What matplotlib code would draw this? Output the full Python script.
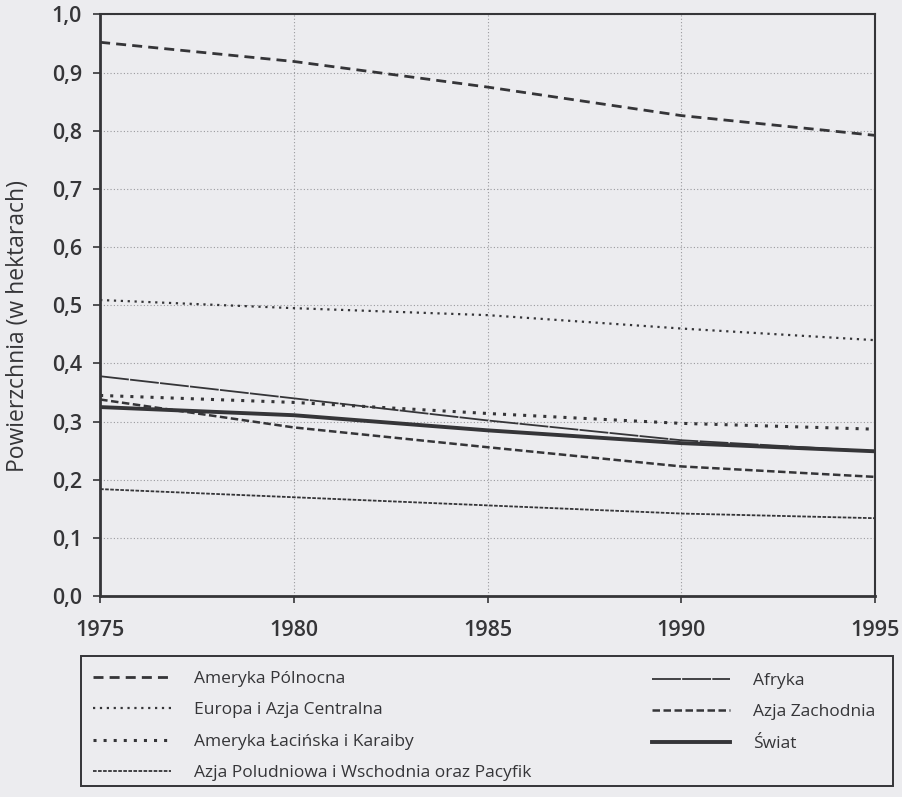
import matplotlib.pyplot as plt
from matplotlib.patches import Rectangle
import numpy as np

# Data (hectares per person)
# ---------------------------------------------
years = [1975, 1980, 1985, 1990, 1995]

ameryka_pln = [0.952, 0.919, 0.875, 0.826, 0.792]
europa = [0.509, 0.495, 0.483, 0.460, 0.440]
ameryka_lac = [0.345, 0.333, 0.314, 0.297, 0.287]
azja_pld = [0.184, 0.170, 0.156, 0.142, 0.134]
afryka = [0.378, 0.340, 0.302, 0.268, 0.249]
azja_zach = [0.338, 0.290, 0.256, 0.223, 0.205]
swiat = [0.325, 0.311, 0.285, 0.263, 0.249]

labels = ['Ameryka Pólnocna', 'Europa i Azja Centralna', 'Ameryka Łacińska i Karaiby',
          'Azja Poludniowa i Wschodnia oraz Pacyfik', 'Afryka', 'Azja Zachodnia', 'Świat']

yticks = [0.0, 0.1, 0.2, 0.3, 0.4, 0.5, 0.6, 0.7, 0.8, 0.9, 1.0]

plt.rcParams['font.family'] = ['Open Sans', 'DejaVu Sans']

bg = '#ececef'
ink = '#353538'

fig = plt.figure(figsize=(9.02, 7.97), dpi=100, facecolor=bg)
ax = fig.add_axes([0.111, 0.252, 0.859, 0.730], facecolor=bg)

# Lines
# -----
l1, = ax.plot(years, ameryka_pln, color=ink, lw=2.0, dashes=(3.6, 2.2), label=labels[0])
l2, = ax.plot(years, europa, color=ink, lw=1.6, dashes=(1, 2.1), label=labels[1])
l3, = ax.plot(years, ameryka_lac, color=ink, lw=2.2, dashes=(1, 2.3), label=labels[2])
l4, = ax.plot(years, azja_pld, color=ink, lw=1.3, dashes=(2, 0.8), label=labels[3])
l5, = ax.plot(years, afryka, color=ink, lw=1.3, dashes=(16, 0.7), label=labels[4])
l6, = ax.plot(years, azja_zach, color=ink, lw=1.8, dashes=(3, 1.4), label=labels[5])
l7, = ax.plot(years, swiat, color=ink, lw=2.8, label=labels[6])

# Axes, ticks, grid
# -----------------
ax.set_xlim(1975, 1995)
ax.set_ylim(0, 1.0)
ax.set_xticks(years)
ax.set_yticks(yticks)
ax.set_yticklabels([f'{v:.1f}'.replace('.', ',') for v in yticks])
ax.grid(True, color='#9a9a9e', lw=0.8, ls=(0, (1, 2)))
ax.tick_params(axis='both', colors=ink, labelsize=15.5, length=5, width=1.2)
ax.tick_params(axis='x', pad=12)
ax.tick_params(axis='y', pad=8)
for lab in ax.get_xticklabels() + ax.get_yticklabels():
    lab.set_fontweight('semibold')
for s in ['left', 'bottom']:
    ax.spines[s].set_linewidth(2.0)
    ax.spines[s].set_color(ink)
for s in ['top', 'right']:
    ax.spines[s].set_linewidth(1.5)
    ax.spines[s].set_color(ink)

ax.set_ylabel('Powierzchnia (w hektarach)', fontsize=16.5, color=ink)
ax.yaxis.set_label_coords(-0.09, 0.464)

# Legend box under the plot
# -------------------------
W, H = 902.0, 797.0
box = Rectangle((81 / W, 1 - 786 / H), 812 / W, 130 / H, transform=fig.transFigure,
                facecolor='none', edgecolor=ink, lw=1.4)
fig.patches.append(box)

leg_kw = dict(fontsize=12.5, frameon=False, handlelength=4.5, handletextpad=1.35,
              labelspacing=0.88, borderpad=0.85, borderaxespad=0, labelcolor=ink)
leg1 = fig.legend([l1, l2, l3, l4], labels[:4], loc='upper left',
                  bbox_to_anchor=(78 / W, 1 - 656 / H), **leg_kw)
leg2 = fig.legend([l5, l6, l7], labels[4:], loc='upper left',
                  bbox_to_anchor=(637 / W, 1 - 658 / H), **leg_kw)

plt.savefig('out.png', dpi=100, facecolor=bg)
